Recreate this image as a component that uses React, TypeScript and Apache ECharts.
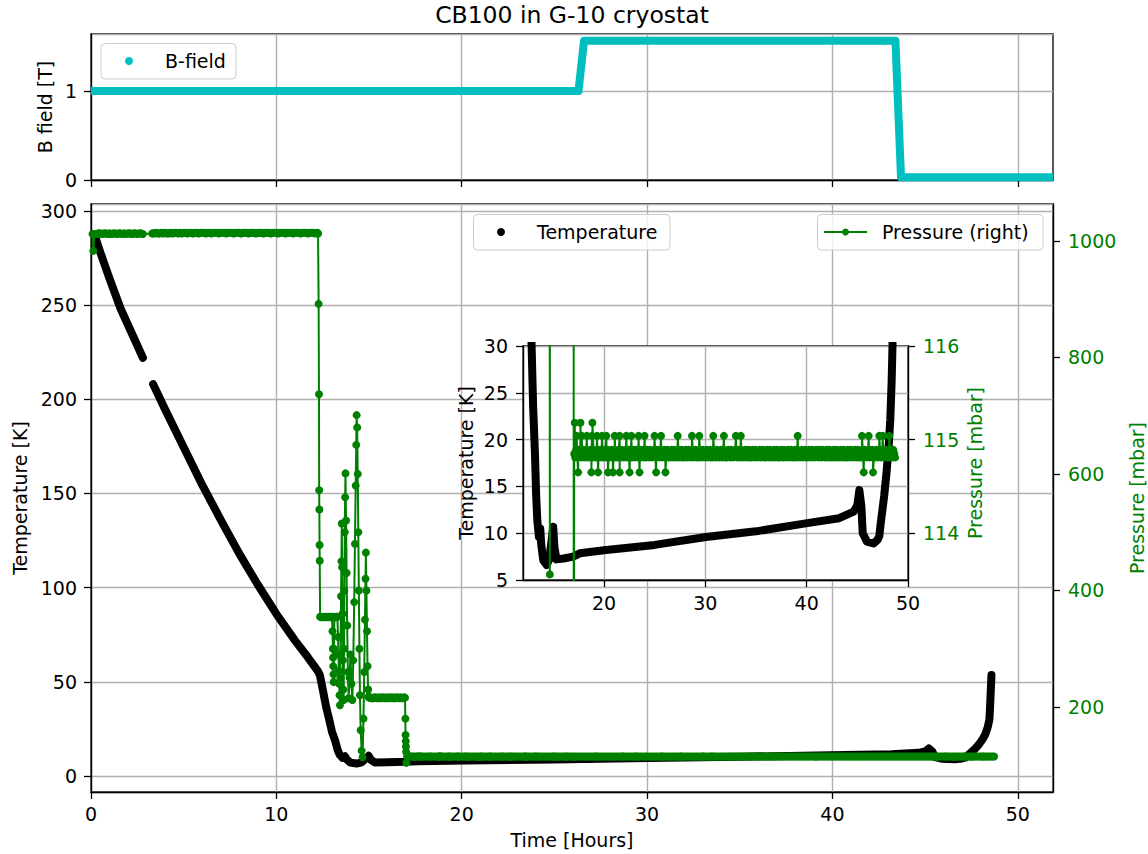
import React, { useEffect, useRef } from "react";
import * as echarts from "echarts";

const FONT = "DejaVu Sans";
const BLACK = "#000000";
const GREEN = "#008000";
const CYAN = "#00bfbf";
const GRID_GRAY = "#b0b0b0";

// ---------------- B-field (top panel) ----------------
const bFieldTime = [0, 26.3, 26.6, 43.4, 43.7, 51.9];
const bFieldValue = [1.0, 1.0, 1.564, 1.564, 0.03, 0.03];

// ---------------- Temperature [K] ----------------
const tempBeforeGap: [number, number][] = [
  [0.2, 287], [0.5, 278], [1.0, 264], [1.6, 248], [2.2, 235], [2.8, 222],
];
const tempAfterGap: [number, number][] = [
  [3.35, 208], [4.0, 194.5], [5.0, 174.5], [6.0, 154.5], [7.0, 136], [8.0, 118],
  [9.0, 101.5], [10.0, 86], [11.0, 72], [11.7, 63], [12.25, 55.5], [12.35, 53.5],
  [12.5, 46], [12.7, 36], [12.85, 30],
  [13.0, 23.5], [13.18, 18.5], [13.3, 14], [13.41, 11.4], [13.57, 9.6], [13.7, 10.5],
  [13.8, 8.8], [14.0, 7.1], [14.33, 6.6], [14.6, 7.2], [14.85, 9.5], [14.98, 10.7],
  [15.1, 8.5], [15.31, 7.2], [16.0, 7.3], [16.95, 7.5], [17.6, 7.85], [20.2, 8.2],
  [25.0, 8.75], [30.05, 9.6], [35.0, 10.2], [39.9, 11.05], [43.2, 11.6], [44.64, 12.3],
  [45.0, 13.0], [45.2, 14.6], [45.4, 12.85], [45.53, 10.0], [45.95, 9.1], [46.6, 8.9],
  [47.0, 9.3], [47.17, 9.7], [47.3, 11.0], [47.43, 12.1], [47.65, 14.0], [47.9, 16.7],
  [48.1, 19.5], [48.25, 22.1], [48.38, 26], [48.47, 30], [48.52, 40], [48.58, 53.6],
];

// ---------------- Pressure [mbar] ----------------
const pressureStart: [number, number][] = [[0.08, 1012], [0.12, 983], [0.18, 1012]];
// room-temperature logging, every 0.1 h (data gap between 2.8 h and 3.3 h)
const roomAStart = 0.3;
const roomBStart = 3.3;
const logStep = 0.1;
const pressureRoomA: number[] = [
  1012, 1013, 1013, 1012, 1013, 1013, 1012, 1013, 1012, 1013, 1013, 1012, 1013,
  1013, 1012, 1013, 1012, 1013, 1013, 1012, 1013, 1013, 1012, 1013, 1013, 1012,
];
const pressureRoomB: number[] = [
  1013, 1013, 1014, 1013, 1013, 1014, 1013, 1014, 1013, 1013, 1014, 1013, 1014, 1014, 1013,
  1014, 1013, 1014, 1014, 1013, 1014, 1014, 1013, 1014, 1014, 1013, 1014, 1014, 1014, 1013,
  1014, 1014, 1013, 1014, 1014, 1014, 1013, 1014, 1014, 1014, 1013, 1014, 1014, 1014, 1013,
  1014, 1014, 1014, 1013, 1014, 1014, 1014, 1013, 1014, 1014, 1014, 1013, 1014, 1014, 1014,
  1013, 1014, 1014, 1014, 1013, 1014, 1014, 1014, 1013, 1014, 1014, 1014, 1013, 1014, 1014,
  1014, 1013, 1014, 1014, 1014, 1013, 1014, 1014, 1014, 1013, 1014, 1014, 1014, 1013, 1014,
];
const pressurePumpDown: [number, number][] = [
  [12.25, 1013], [12.28, 892], [12.3, 737], [12.31, 572], [12.32, 539], [12.33, 478],
  [12.34, 451], [12.36, 355],
];
const pressurePlateau355: [number, number][] = [
  [12.4, 355], [12.45, 354], [12.5, 355], [12.55, 355], [12.6, 354], [12.65, 355],
  [12.7, 355], [12.75, 354], [12.8, 355], [12.85, 355], [12.9, 354], [12.95, 355], [13.0, 355],
];
const pressureOscillation: [number, number][] = [
  [13.03, 330], [13.05, 300], [13.06, 285], [13.07, 270], [13.08, 256], [13.09, 243],
  [13.11, 300], [13.13, 354], [13.17, 355], [13.21, 354], [13.25, 355], [13.29, 355],
  [13.33, 320], [13.35, 290], [13.37, 262], [13.39, 240], [13.41, 220], [13.43, 203],
  [13.45, 250], [13.47, 320], [13.49, 390], [13.51, 450], [13.53, 515], [13.55, 440],
  [13.57, 360], [13.59, 280], [13.61, 230], [13.63, 212], [13.65, 300], [13.67, 400],
  [13.69, 500], [13.71, 560], [13.73, 601], [13.76, 520], [13.79, 430], [13.82, 340],
  [13.86, 260], [13.9, 215], [13.95, 250], [14.0, 290], [14.05, 240], [14.1, 212],
  [14.15, 280], [14.2, 380], [14.24, 480], [14.28, 580], [14.31, 650], [14.33, 701],
  [14.36, 680], [14.39, 600], [14.42, 500], [14.45, 400], [14.48, 300], [14.51, 220],
  [14.55, 160], [14.6, 125], [14.65, 113.56], [14.7, 180], [14.74, 260], [14.78, 350],
  [14.81, 420], [14.83, 465], [14.86, 400], [14.89, 330], [14.92, 270], [14.95, 230],
  [14.98, 218],
];
const pressurePlateau216: [number, number][] = [
  [15.0, 216], [15.05, 216], [15.1, 216], [15.15, 215], [15.2, 215], [15.25, 216], [15.3, 216],
  [15.35, 216], [15.4, 216], [15.45, 215], [15.5, 216], [15.55, 216], [15.6, 215], [15.65, 216],
  [15.7, 216], [15.75, 216], [15.8, 216], [15.85, 215], [15.9, 216], [15.95, 216], [16.0, 215],
  [16.05, 216], [16.1, 216], [16.15, 216], [16.2, 216], [16.25, 215], [16.3, 216], [16.35, 216],
  [16.4, 215], [16.45, 216], [16.5, 216], [16.55, 216], [16.6, 216], [16.65, 215], [16.7, 216],
  [16.75, 216], [16.8, 215], [16.85, 216], [16.9, 216],
];
const pressureDrop: [number, number][] = [
  [16.94, 216], [16.96, 180], [16.97, 152], [16.98, 141], [16.99, 132], [17.0, 123], [17.01, 104],
];
// cold plateau, logged every 0.1 h from 17.05 h
const bandStart = 17.05;
const pressureBand: number[] = [
  114.85, 114.81, 114.89, 114.85, 114.81, 114.89, 114.85, 114.81, 114.85, 114.89, 114.81, 114.85, 114.89, 114.81, 114.85, 114.81, 114.89, 114.85, 114.81, 114.89,
  114.85, 114.81, 114.85, 114.89, 114.81, 114.85, 114.89, 114.81, 114.85, 114.81, 114.89, 114.85, 114.81, 114.89, 114.85, 114.81, 114.85, 114.89, 114.81, 114.85,
  114.89, 114.81, 114.85, 114.81, 114.89, 114.85, 114.81, 114.89, 114.85, 114.81, 114.85, 114.89, 114.81, 114.85, 114.89, 114.81, 114.85, 114.81, 114.89, 114.85,
  114.81, 114.89, 114.85, 114.81, 114.85, 114.89, 114.81, 114.85, 114.89, 114.81, 114.85, 114.81, 114.89, 114.85, 114.81, 114.89, 114.85, 114.81, 114.85, 114.89,
  114.85, 114.81, 114.89, 114.85, 114.81, 114.89, 114.85, 114.81, 114.85, 114.89, 114.81, 114.85, 114.89, 114.81, 114.85, 114.81, 114.89, 114.85, 114.81, 114.89,
  114.85, 114.81, 114.85, 114.89, 114.81, 114.85, 114.89, 114.81, 114.85, 114.81, 114.89, 114.85, 114.81, 114.89, 114.85, 114.81, 114.85, 114.89, 114.81, 114.85,
  114.89, 114.81, 114.85, 114.81, 114.89, 114.85, 114.81, 114.89, 114.85, 114.81, 114.85, 114.89, 114.81, 114.85, 114.89, 114.81, 114.85, 114.81, 114.89, 114.85,
  114.81, 114.89, 114.85, 114.81, 114.85, 114.89, 114.81, 114.85, 114.89, 114.81, 114.85, 114.81, 114.89, 114.85, 114.81, 114.89, 114.85, 114.81, 114.85, 114.89,
  114.85, 114.81, 114.89, 114.85, 114.81, 114.89, 114.85, 114.81, 114.85, 114.89, 114.81, 114.85, 114.89, 114.81, 114.85, 114.81, 114.89, 114.85, 114.81, 114.89,
  114.85, 114.81, 114.85, 114.89, 114.81, 114.85, 114.89, 114.81, 114.85, 114.81, 114.89, 114.85, 114.81, 114.89, 114.85, 114.81, 114.85, 114.89, 114.81, 114.85,
  114.89, 114.81, 114.85, 114.81, 114.89, 114.85, 114.81, 114.89, 114.85, 114.81, 114.85, 114.89, 114.81, 114.85, 114.89, 114.81, 114.85, 114.81, 114.89, 114.85,
  114.81, 114.89, 114.85, 114.81, 114.85, 114.89, 114.81, 114.85, 114.89, 114.81, 114.85, 114.81, 114.89, 114.85, 114.81, 114.89, 114.85, 114.81, 114.85, 114.89,
  114.85, 114.81, 114.89, 114.85, 114.81, 114.89, 114.85, 114.81, 114.85, 114.89, 114.81, 114.85, 114.89, 114.81, 114.85, 114.81, 114.89, 114.85, 114.81, 114.89,
  114.85, 114.81, 114.85, 114.89, 114.81, 114.85, 114.89, 114.81, 114.85, 114.81, 114.89, 114.85, 114.81, 114.89, 114.85, 114.81, 114.85, 114.89, 114.81, 114.85,
  114.89, 114.81, 114.85, 114.81, 114.89, 114.85, 114.81, 114.89, 114.85, 114.81, 114.85, 114.89, 114.81, 114.85, 114.89, 114.81, 114.85, 114.81, 114.89, 114.85,
  114.81, 114.89, 114.85, 114.81, 114.85, 114.89, 114.81, 114.85, 114.89, 114.81, 114.85, 114.81, 114.89, 114.85, 114.81, 114.89, 114.85,
];
const highReadingTimes = [
  17.3, 17.8, 18.3, 18.8, 19.3, 19.8, 20.23, 21.05, 21.54, 22.2, 22.69, 23.41, 24.0,
  24.98, 25.63, 27.27, 28.68, 29.4, 30.78, 31.83, 33.01, 33.5, 39.11, 45.46, 46.12,
  47.17, 47.5, 48.15,
];
const highReadingValue = 115.04;
const highestReadingTimes = [17.11, 17.67, 18.85];
const highestReadingValue = 115.18;
const lowReadingTimes = [17.44, 18.75, 19.41, 20.39, 20.88, 21.54, 22.52, 23.5, 25.14, 26.06, 45.63, 46.55];
const lowReadingValue = 114.65;
const pressureEnd: [number, number][] = [[48.72, 114.81]];

const onGrid = (start: number, values: number[]): [number, number][] =>
  values.map((p, i) => [Math.round((start + i * logStep) * 1000) / 1000, p]);

function buildPressure(): [number, number][] {
  const extra: [number, number][] = [
    ...highReadingTimes.map((t) => [t, highReadingValue] as [number, number]),
    ...highestReadingTimes.map((t) => [t, highestReadingValue] as [number, number]),
    ...lowReadingTimes.map((t) => [t, lowReadingValue] as [number, number]),
    ...pressureEnd,
  ];
  const cold = [...onGrid(bandStart, pressureBand), ...extra].sort((a, b) => a[0] - b[0]);
  return [
    ...pressureStart,
    ...onGrid(roomAStart, pressureRoomA),
    ...onGrid(roomBStart, pressureRoomB),
    ...pressurePumpDown,
    ...pressurePlateau355,
    ...pressureOscillation,
    ...pressurePlateau216,
    ...pressureDrop,
    ...cold,
  ];
}

const TEXT = { fontFamily: FONT, fontSize: 19, color: BLACK };
const TICK = { show: true, inside: false, length: 7, lineStyle: { color: BLACK, width: 1.3 } };
const AXLINE = { show: true, onZero: false, lineStyle: { color: BLACK, width: 1.3 } };
const SPLIT = { show: true, lineStyle: { color: GRID_GRAY, width: 1.4 } };
const plain = (v: number) => String(v);
const GRID_COMMON = {
  show: true, borderColor: BLACK, borderWidth: 1.3, containLabel: false, outerBoundsMode: "none",
};

export default function App() {
  const ref = useRef<HTMLDivElement>(null);

  useEffect(() => {
    if (!ref.current) return;
    const chart = echarts.init(ref.current, null, { renderer: "svg", width: 1148, height: 854 });
    const pressure = buildPressure();
    const bField = bFieldTime.map((t, i) => [t, bFieldValue[i]]);

    const option: any = {
      animation: false,
      backgroundColor: "#ffffff",
      textStyle: { fontFamily: FONT },
      grid: [
        { ...GRID_COMMON, left: 91, top: 34, width: 962, height: 146, backgroundColor: "transparent", z: 0 },
        { ...GRID_COMMON, left: 91, top: 204, width: 962, height: 588, backgroundColor: "transparent", z: 0 },
        { ...GRID_COMMON, left: 523, top: 346, width: 385, height: 234, backgroundColor: "#ffffff", z: 5 },
      ],
      xAxis: [
        {
          type: "value", gridIndex: 0, min: 0, max: 51.9, interval: 10, z: 1,
          axisLabel: { show: false },
          axisTick: { ...TICK, customValues: [0, 10, 20, 30, 40, 50] },
          axisLine: AXLINE, splitLine: SPLIT,
        },
        {
          type: "value", gridIndex: 1, min: 0, max: 51.9, interval: 10, z: 1,
          axisLabel: { ...TEXT, margin: 12, showMaxLabel: false, formatter: plain },
          axisTick: TICK, axisLine: AXLINE, splitLine: SPLIT,
          name: "Time [Hours]", nameLocation: "middle", nameGap: 38,
          nameTextStyle: { ...TEXT },
        },
        {
          type: "value", gridIndex: 2, min: 12, max: 50, minInterval: 10, maxInterval: 10, z: 6,
          axisLabel: { ...TEXT, margin: 13, showMinLabel: false, showMaxLabel: true, formatter: plain },
          axisTick: TICK, axisLine: AXLINE, splitLine: SPLIT,
        },
      ],
      yAxis: [
        {
          type: "value", gridIndex: 0, min: 0, max: 1.64, interval: 1, z: 1,
          axisLabel: { ...TEXT, margin: 14, showMaxLabel: false, formatter: plain },
          axisTick: TICK, axisLine: AXLINE, splitLine: SPLIT,
          name: "B field [T]", nameLocation: "middle", nameRotate: 90, nameGap: 32,
          nameTextStyle: { ...TEXT },
        },
        {
          type: "value", gridIndex: 1, min: -8.5, max: 303.6, minInterval: 50, maxInterval: 50, splitNumber: 6, z: 1,
          axisLabel: { ...TEXT, margin: 14, showMinLabel: false, showMaxLabel: false, formatter: plain },
          axisTick: TICK, axisLine: AXLINE, splitLine: SPLIT,
          name: "Temperature [K]", nameLocation: "middle", nameRotate: 90, nameGap: 60,
          nameTextStyle: { ...TEXT },
        },
        {
          type: "value", gridIndex: 1, position: "right", min: 54, max: 1063.5, minInterval: 200, maxInterval: 200, z: 1,
          axisLabel: { ...TEXT, color: GREEN, margin: 15, showMinLabel: false, showMaxLabel: false, formatter: plain },
          axisTick: TICK, axisLine: AXLINE, splitLine: { show: false },
          name: "Pressure [mbar]", nameLocation: "middle", nameRotate: 90, nameGap: 63,
          nameTextStyle: { ...TEXT, color: GREEN },
        },
        {
          type: "value", gridIndex: 2, min: 5, max: 30, interval: 5, z: 6,
          axisLabel: { ...TEXT, margin: 15, showMinLabel: true, showMaxLabel: true, formatter: plain },
          axisTick: TICK, axisLine: AXLINE, splitLine: SPLIT,
          name: "Temperature [K]", nameLocation: "middle", nameRotate: 90, nameGap: 48,
          nameTextStyle: { ...TEXT },
        },
        {
          type: "value", gridIndex: 2, position: "right", min: 113.5, max: 116, minInterval: 1, maxInterval: 1, z: 6,
          axisLabel: { ...TEXT, color: GREEN, margin: 15, showMinLabel: false, showMaxLabel: true, formatter: plain },
          axisTick: TICK, axisLine: AXLINE, splitLine: { show: false },
          name: "Pressure [mbar]", nameLocation: "middle", nameRotate: 90, nameGap: 57,
          nameTextStyle: { ...TEXT, color: GREEN },
        },
      ],
      series: [
        {
          name: "B-field", type: "line", xAxisIndex: 0, yAxisIndex: 0, data: bField,
          showSymbol: false, z: 2,
          lineStyle: { color: CYAN, width: 8, cap: "butt", join: "round" },
        },
        {
          name: "Temperature", type: "line", xAxisIndex: 1, yAxisIndex: 1, data: tempBeforeGap,
          showSymbol: false, z: 3,
          lineStyle: { color: BLACK, width: 8, cap: "round", join: "round" },
        },
        {
          name: "Temperature", type: "line", xAxisIndex: 1, yAxisIndex: 1, data: tempAfterGap,
          showSymbol: false, z: 3,
          lineStyle: { color: BLACK, width: 8, cap: "round", join: "round" },
        },
        {
          name: "Pressure (right)", type: "line", xAxisIndex: 1, yAxisIndex: 2, data: pressure,
          symbol: "circle", symbolSize: 8, showAllSymbol: true, z: 4,
          itemStyle: { color: GREEN },
          lineStyle: { color: GREEN, width: 2 },
        },
        {
          name: "Temperature inset", type: "line", xAxisIndex: 2, yAxisIndex: 3, data: tempAfterGap,
          showSymbol: false, z: 7,
          lineStyle: { color: BLACK, width: 8, cap: "round", join: "round" },
        },
        {
          name: "Pressure inset", type: "line", xAxisIndex: 2, yAxisIndex: 4, data: pressure,
          symbol: "circle", symbolSize: 8, showAllSymbol: true, z: 8,
          itemStyle: { color: GREEN },
          lineStyle: { color: GREEN, width: 2 },
        },
      ],
      graphic: [
        {
          type: "text", x: 572, y: 15, z: 30,
          style: { text: "CB100 in G-10 cryostat", fontFamily: FONT, fontSize: 23.5, fill: BLACK, align: "center", verticalAlign: "middle" },
        },
        // B-field legend
        {
          type: "rect", z: 30, shape: { x: 101, y: 43.5, width: 135, height: 35.5, r: 4 },
          style: { fill: "rgba(255,255,255,0.8)", stroke: "#cccccc", lineWidth: 1 },
        },
        { type: "circle", z: 31, shape: { cx: 129, cy: 61, r: 4 }, style: { fill: CYAN } },
        {
          type: "text", x: 165, y: 61, z: 31,
          style: { text: "B-field", fontFamily: FONT, fontSize: 19, fill: BLACK, align: "left", verticalAlign: "middle" },
        },
        // Temperature legend
        {
          type: "rect", z: 30, shape: { x: 473.5, y: 214.5, width: 196.5, height: 35.5, r: 4 },
          style: { fill: "rgba(255,255,255,0.8)", stroke: "#cccccc", lineWidth: 1 },
        },
        { type: "circle", z: 31, shape: { cx: 501, cy: 232, r: 4 }, style: { fill: BLACK } },
        {
          type: "text", x: 537, y: 232, z: 31,
          style: { text: "Temperature", fontFamily: FONT, fontSize: 19, fill: BLACK, align: "left", verticalAlign: "middle" },
        },
        // Pressure legend
        {
          type: "rect", z: 30, shape: { x: 817.5, y: 214.5, width: 225.5, height: 35.5, r: 4 },
          style: { fill: "rgba(255,255,255,0.8)", stroke: "#cccccc", lineWidth: 1 },
        },
        { type: "line", z: 31, shape: { x1: 824, y1: 232, x2: 867, y2: 232 }, style: { stroke: GREEN, lineWidth: 2.2 } },
        { type: "circle", z: 32, shape: { cx: 845.5, cy: 232, r: 3.5 }, style: { fill: GREEN } },
        {
          type: "text", x: 882, y: 232, z: 31,
          style: { text: "Pressure (right)", fontFamily: FONT, fontSize: 19, fill: BLACK, align: "left", verticalAlign: "middle" },
        },
      ],
    };

    chart.setOption(option);
    return () => chart.dispose();
  }, []);

  return (
    <div
      ref={ref}
      style={{ position: "fixed", left: 0, top: 0, width: 1148, height: 854, background: "#ffffff" }}
    />
  );
}
